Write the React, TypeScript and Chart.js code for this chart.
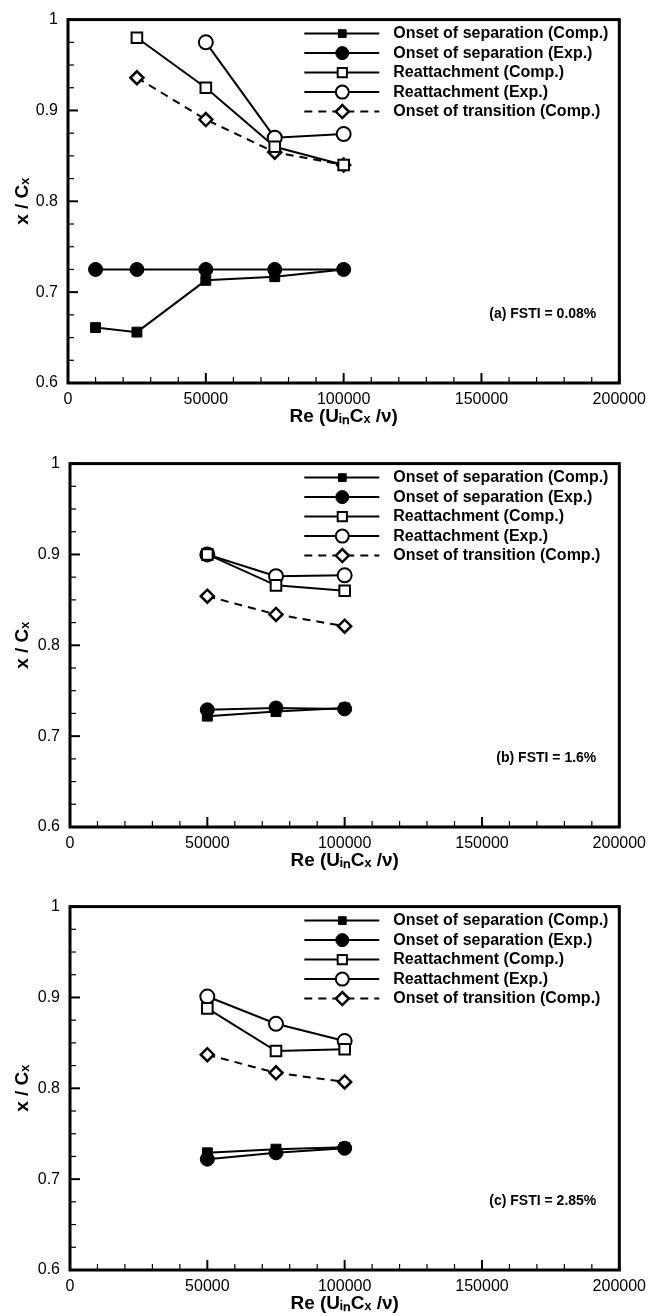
import React, { useEffect, useRef } from 'react';
import { Chart, registerables } from 'chart.js';
import { drawPoint } from 'chart.js/helpers';

Chart.register(...registerables);

const FONT = "'Liberation Sans', Arial, Helvetica, sans-serif";

// ---- Data ----
const SERIES_LABELS = [
  'Onset of separation (Comp.)',
  'Onset of separation (Exp.)',
  'Reattachment (Comp.)',
  'Reattachment (Exp.)',
  'Onset of transition (Comp.)',
];
const PANEL_NOTES = ['(a) FSTI = 0.08%', '(b) FSTI = 1.6%', '(c) FSTI = 2.85%'];
const X_TITLE = 'Re (U\u1D62\u2099C\u2093 /\u03BD)';
const Y_TITLE = 'x / C\u2093';

// Panel (a): FSTI = 0.08%
const A_RE_SEP = [10000, 25000, 50000, 75000, 100000];
const A_SEP_COMP = [0.661, 0.656, 0.713, 0.717, 0.725];
const A_SEP_EXP = [0.725, 0.725, 0.725, 0.725, 0.725];
const A_RE_REATT_COMP = [25000, 50000, 75000, 100000];
const A_REATT_COMP = [0.98, 0.925, 0.86, 0.84];
const A_RE_REATT_EXP = [50000, 75000, 100000];
const A_REATT_EXP = [0.975, 0.87, 0.874];
const A_RE_TRANS = [25000, 50000, 75000, 100000];
const A_TRANS = [0.936, 0.89, 0.854, 0.84];

// Panels (b), (c)
const BC_RE = [50000, 75000, 100000];
const B_SEP_COMP = [0.722, 0.727, 0.731];
const B_SEP_EXP = [0.729, 0.731, 0.73];
const B_REATT_COMP = [0.9, 0.866, 0.86];
const B_REATT_EXP = [0.9, 0.876, 0.877];
const B_TRANS = [0.854, 0.834, 0.821];

const C_SEP_COMP = [0.729, 0.733, 0.735];
const C_SEP_EXP = [0.722, 0.729, 0.734];
const C_REATT_COMP = [0.888, 0.841, 0.843];
const C_REATT_EXP = [0.901, 0.871, 0.852];
const C_TRANS = [0.837, 0.817, 0.807];

const X_MIN = 0, X_MAX = 200000, X_STEP = 50000, X_MINOR = 10000;
const Y_MIN = 0.6, Y_MAX = 1, Y_STEP = 0.1, Y_MINOR = 0.025;

const zip = (xs: number[], ys: number[]) => xs.map((x, i) => ({ x, y: ys[i] }));

type PanelData = {
  sep: [number[], number[]];
  sepExp: [number[], number[]];
  reattComp: [number[], number[]];
  reattExp: [number[], number[]];
  trans: [number[], number[]];
};

const PANELS: PanelData[] = [
  {
    sep: [A_RE_SEP, A_SEP_COMP],
    sepExp: [A_RE_SEP, A_SEP_EXP],
    reattComp: [A_RE_REATT_COMP, A_REATT_COMP],
    reattExp: [A_RE_REATT_EXP, A_REATT_EXP],
    trans: [A_RE_TRANS, A_TRANS],
  },
  {
    sep: [BC_RE, B_SEP_COMP],
    sepExp: [BC_RE, B_SEP_EXP],
    reattComp: [BC_RE, B_REATT_COMP],
    reattExp: [BC_RE, B_REATT_EXP],
    trans: [BC_RE, B_TRANS],
  },
  {
    sep: [BC_RE, C_SEP_COMP],
    sepExp: [BC_RE, C_SEP_EXP],
    reattComp: [BC_RE, C_REATT_COMP],
    reattExp: [BC_RE, C_REATT_EXP],
    trans: [BC_RE, C_TRANS],
  },
];

function makeDatasets(p: PanelData) {
  const base = { borderColor: '#000', borderWidth: 2, pointBorderColor: '#000', fill: false, tension: 0 };
  return [
    { ...base, label: SERIES_LABELS[0], data: zip(...p.sep), pointStyle: 'rect', pointRadius: 7, pointBackgroundColor: '#000', pointBorderWidth: 1, legendRadius: 5.5 },
    { ...base, label: SERIES_LABELS[1], data: zip(...p.sepExp), pointStyle: 'circle', pointRadius: 7, pointBackgroundColor: '#000', pointBorderWidth: 1, legendRadius: 6.5 },
    { ...base, label: SERIES_LABELS[2], data: zip(...p.reattComp), pointStyle: 'rect', pointRadius: 7.5, pointBackgroundColor: '#fff', pointBorderWidth: 2, legendRadius: 6.5 },
    { ...base, label: SERIES_LABELS[3], data: zip(...p.reattExp), pointStyle: 'circle', pointRadius: 7, pointBackgroundColor: '#fff', pointBorderWidth: 2, legendRadius: 6.5 },
    { ...base, label: SERIES_LABELS[4], data: zip(...p.trans), pointStyle: 'rectRot', pointRadius: 6.5, pointBackgroundColor: '#fff', pointBorderWidth: 2.5, borderDash: [8, 6], legendRadius: 6.5 },
  ];
}

const framePlugin = {
  id: 'frameTicks',
  beforeDatasetsDraw(chart: any) {
    const { ctx, chartArea: a, scales } = chart;
    const x = scales.x, y = scales.y;
    ctx.save();
    ctx.strokeStyle = '#000';
    for (let v = X_MIN; v <= X_MAX + 1; v += X_MINOR) {
      const major = Math.abs(v % X_STEP) < 1;
      const px = x.getPixelForValue(v);
      ctx.lineWidth = major ? 2 : 1.2;
      ctx.beginPath();
      ctx.moveTo(px, a.bottom);
      ctx.lineTo(px, a.bottom - (major ? 10 : 6));
      ctx.stroke();
    }
    const n = Math.round((Y_MAX - Y_MIN) / Y_MINOR);
    for (let i = 0; i <= n; i++) {
      const v = Y_MIN + i * Y_MINOR;
      const major = i % 4 === 0;
      const py = y.getPixelForValue(v);
      ctx.lineWidth = major ? 2 : 1.2;
      ctx.beginPath();
      ctx.moveTo(a.left, py);
      ctx.lineTo(a.left + (major ? 10 : 6), py);
      ctx.stroke();
    }
    ctx.lineWidth = 3;
    ctx.strokeRect(a.left, a.top, a.right - a.left, a.bottom - a.top);
    ctx.restore();
  },
};

const legendPlugin = {
  id: 'innerLegend',
  afterDraw(chart: any, _args: any, opts: any) {
    const { ctx, chartArea: a } = chart;
    ctx.save();
    chart.data.datasets.forEach((ds: any, i: number) => {
      const yy = a.top + 14 + i * 19.5;
      const x0 = a.right - 315, x1 = a.right - 240, xm = a.right - 277;
      ctx.strokeStyle = '#000';
      ctx.lineWidth = 2;
      ctx.setLineDash(ds.borderDash || []);
      ctx.beginPath();
      ctx.moveTo(x0, yy);
      ctx.lineTo(x1, yy);
      ctx.stroke();
      ctx.setLineDash([]);
      ctx.fillStyle = ds.pointBackgroundColor;
      ctx.lineWidth = ds.pointBorderWidth;
      drawPoint(ctx, { pointStyle: ds.pointStyle, rotation: 0, radius: ds.legendRadius, borderWidth: ds.pointBorderWidth } as any, xm, yy);
      ctx.fillStyle = '#000';
      ctx.font = `bold 16px ${FONT}`;
      ctx.textAlign = 'left';
      ctx.textBaseline = 'middle';
      ctx.fillText(ds.label, a.right - 226, yy);
    });
    ctx.font = `bold 14px ${FONT}`;
    ctx.textAlign = 'right';
    ctx.textBaseline = 'middle';
    ctx.fillStyle = '#000';
    ctx.fillText(opts.note, a.right - 23, a.top + 295);
    ctx.restore();
  },
};

function Panel({ index, top, height, yWidth }: { index: number; top: number; height: number; yWidth: number }) {
  const ref = useRef<HTMLCanvasElement>(null);
  useEffect(() => {
    const chart = new Chart(ref.current as HTMLCanvasElement, {
      type: 'line',
      data: { datasets: makeDatasets(PANELS[index]) as any },
      options: {
        responsive: false,
        animation: false,
        devicePixelRatio: 1,
        layout: { padding: { top: 15, right: 33, left: 0, bottom: 0 } },
        plugins: {
          legend: { display: false },
          tooltip: { enabled: false },
          innerLegend: { note: PANEL_NOTES[index] },
        } as any,
        scales: {
          x: {
            type: 'linear',
            min: X_MIN,
            max: X_MAX,
            grid: { display: false, drawTicks: false },
            border: { display: false },
            ticks: {
              stepSize: X_STEP,
              color: '#000',
              padding: 7,
              font: { family: FONT, size: 16 },
              callback: (v: any) => String(v),
            },
            title: {
              display: true,
              text: X_TITLE,
              color: '#000',
              font: { family: FONT, size: 19, weight: 'bold' },
              padding: { top: 0, bottom: 16 },
            },
            afterFit: (s: any) => {
              s.height = height - 15 - 368;
            },
          },
          y: {
            type: 'linear',
            min: Y_MIN,
            max: Y_MAX,
            grid: { display: false, drawTicks: false },
            border: { display: false },
            ticks: {
              stepSize: Y_STEP,
              color: '#000',
              padding: 10,
              font: { family: FONT, size: 16 },
              callback: (v: any) => (Math.abs(v - 1) < 1e-9 ? '1' : Number(v).toFixed(1)),
            },
            title: {
              display: true,
              text: Y_TITLE,
              color: '#000',
              font: { family: FONT, size: 19, weight: 'bold' },
              padding: { top: 11, bottom: 0 },
            },
            afterFit: (s: any) => {
              s.width = yWidth;
            },
          },
        },
      } as any,
      plugins: [framePlugin, legendPlugin],
    });
    return () => chart.destroy();
  }, [index, height, yWidth]);
  return (
    <canvas
      ref={ref}
      width={653}
      height={height}
      style={{ position: 'absolute', left: 0, top, display: 'block', width: 653, height }}
    />
  );
}

export default function App() {
  return (
    <div style={{ position: 'absolute', left: 0, top: 0, width: 653, height: 1316, overflow: 'hidden', background: '#fff' }}>
      <Panel index={0} top={0} height={444} yWidth={68} />
      <Panel index={1} top={444} height={444} yWidth={70} />
      <Panel index={2} top={887} height={444} yWidth={70} />
    </div>
  );
}
